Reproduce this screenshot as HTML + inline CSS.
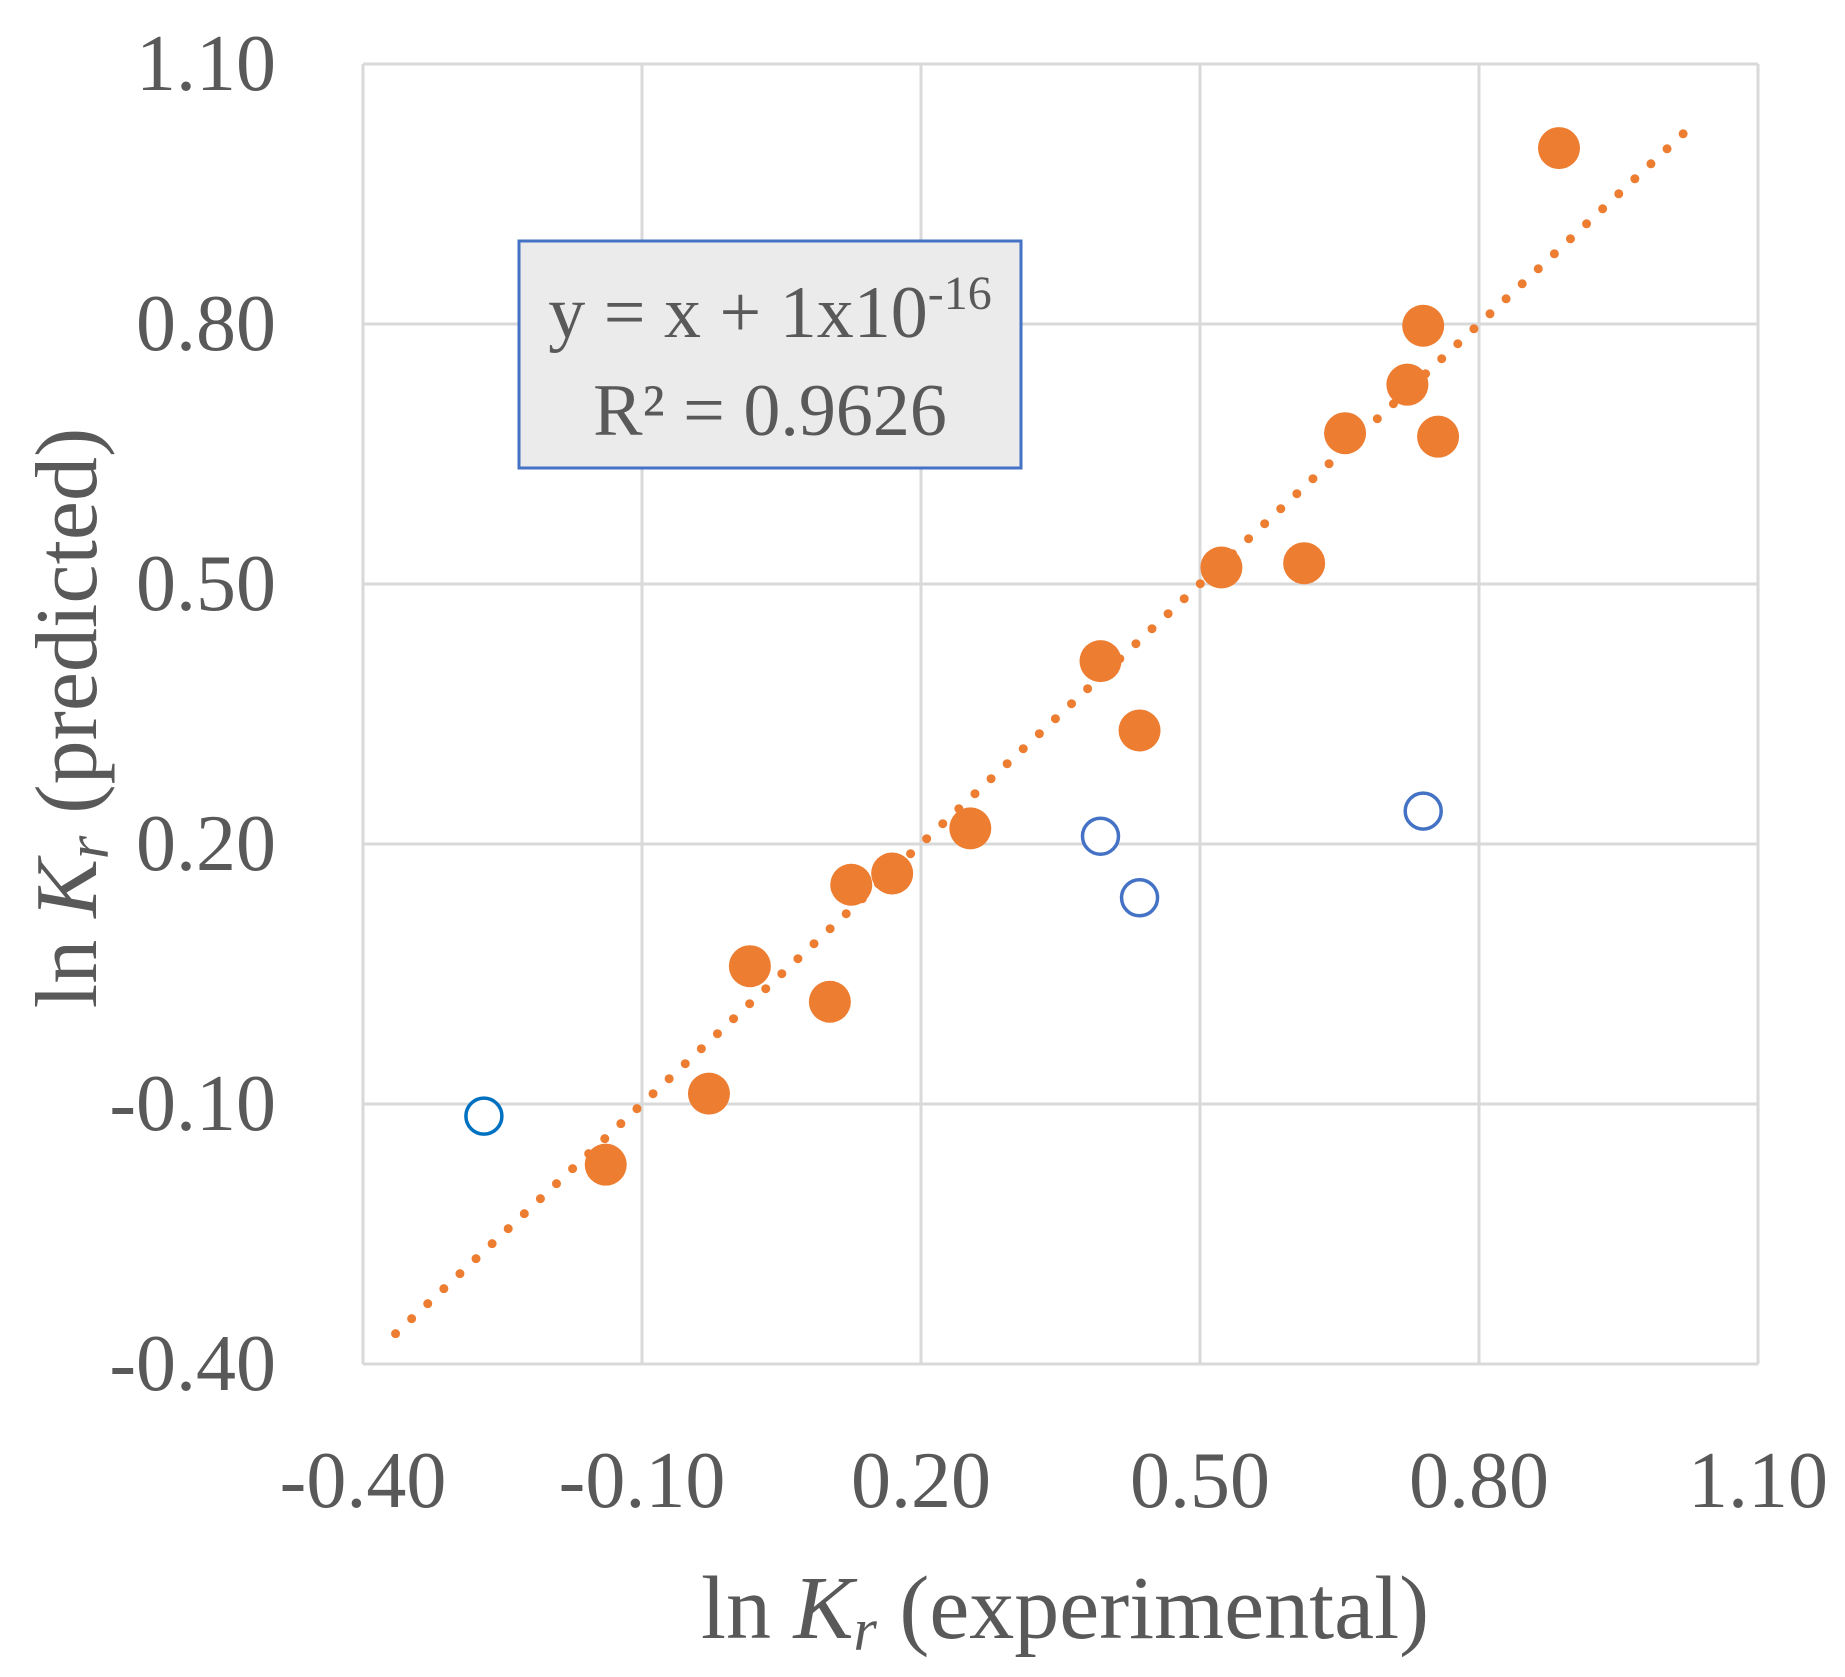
<!DOCTYPE html>
<html><head><meta charset="utf-8"><style>
html,body{margin:0;padding:0;background:#fff;}
svg{display:block;font-family:"Liberation Serif",serif;}
</style></head><body>
<svg id="chart" width="1845" height="1677" viewBox="0 0 1845 1677" xmlns="http://www.w3.org/2000/svg">
<g id="grid"></g>
<g id="trend"></g>
<g id="pts"></g>
<g id="ticks"></g>
<g>
<rect x="519" y="241" width="502" height="227" fill="#ebebeb" stroke="#4472c4" stroke-width="3"/>
<text x="770" y="337" text-anchor="middle" font-size="74" fill="#595959">y = x + 1x10<tspan dy="-28" font-size="48">-16</tspan></text>
<text x="770" y="435" text-anchor="middle" font-size="74" fill="#595959">R² = 0.9626</text>
</g>
<text x="1065" y="1638" text-anchor="middle" font-size="90" fill="#595959">ln <tspan font-style="italic">K</tspan><tspan font-style="italic" font-size="60" dy="12">r</tspan><tspan dy="-12"> (experimental)</tspan></text>
<text transform="translate(96,718) rotate(-90)" text-anchor="middle" font-size="88" fill="#595959">ln <tspan font-style="italic">K</tspan><tspan font-style="italic" font-size="60" dy="12">r</tspan><tspan dy="-12"> (predicted)</tspan></text>
</svg>
<script>
const tickValues=[-0.40,-0.10,0.20,0.50,0.80,1.10];
const tickLabels=["-0.40","-0.10","0.20","0.50","0.80","1.10"];
const fitX=[0.886,0.740,0.723,0.756,0.656,0.612,0.523,0.393,0.435,0.253,0.169,0.125,0.016,0.102,-0.028,-0.139];
const fitY=[1.003,0.798,0.730,0.670,0.674,0.524,0.519,0.411,0.331,0.218,0.166,0.153,0.059,0.018,-0.088,-0.170];
const outX=[-0.270,0.393,0.435,0.740];
const outY=[-0.114,0.209,0.138,0.238];
const trendRange=[-0.365,1.025];
const L=363,R=1758,T=64,B=1364,MIN=-0.4,MAX=1.1;
const sx=v=>L+(v-MIN)/(MAX-MIN)*(R-L);
const sy=v=>B-(v-MIN)/(MAX-MIN)*(B-T);
const NS="http://www.w3.org/2000/svg";
function mk(tag,parent,attrs){const e=document.createElementNS(NS,tag);for(const k in attrs)e.setAttribute(k,attrs[k]);parent.appendChild(e);return e;}
const grid=document.getElementById('grid'),ticks=document.getElementById('ticks'),pts=document.getElementById('pts'),trend=document.getElementById('trend');
tickValues.forEach((v,i)=>{
  const gv=mk('line',grid,{x1:sx(v),x2:sx(v),y1:T,y2:B,stroke:'#d9d9d9','stroke-width':3});
  
  
  const gh=mk('line',grid,{x1:L,x2:R,y1:sy(v),y2:sy(v),stroke:'#d9d9d9','stroke-width':3});
  
  
  const tx=mk('text',ticks,{x:sx(v),y:1507,'text-anchor':'middle','font-size':80,fill:'#595959'});
  tx.textContent=tickLabels[i];
  
  
  const ty=mk('text',ticks,{x:276,y:sy(v)+26,'text-anchor':'end','font-size':80,fill:'#595959'});
  ty.textContent=tickLabels[i];
  
  
});
const tl=mk('line',trend,{x1:sx(trendRange[0]),y1:sy(trendRange[0]),x2:sx(trendRange[1]),y2:sy(trendRange[1]),stroke:'#ed7d31','stroke-width':9,'stroke-linecap':'round','stroke-dasharray':'0 22'});


fitX.forEach((x,i)=>{
  const c=mk('circle',pts,{cx:sx(x),cy:sy(fitY[i]),r:21,fill:'#ed7d31'});
  
  
});
outX.forEach((x,i)=>{
  const c=mk('circle',pts,{cx:sx(x),cy:sy(outY[i]),r:18,fill:'#fff',stroke:i===0?'#0070c0':'#4472c4','stroke-width':3.5});
  
  
});
</script>
</body></html>
